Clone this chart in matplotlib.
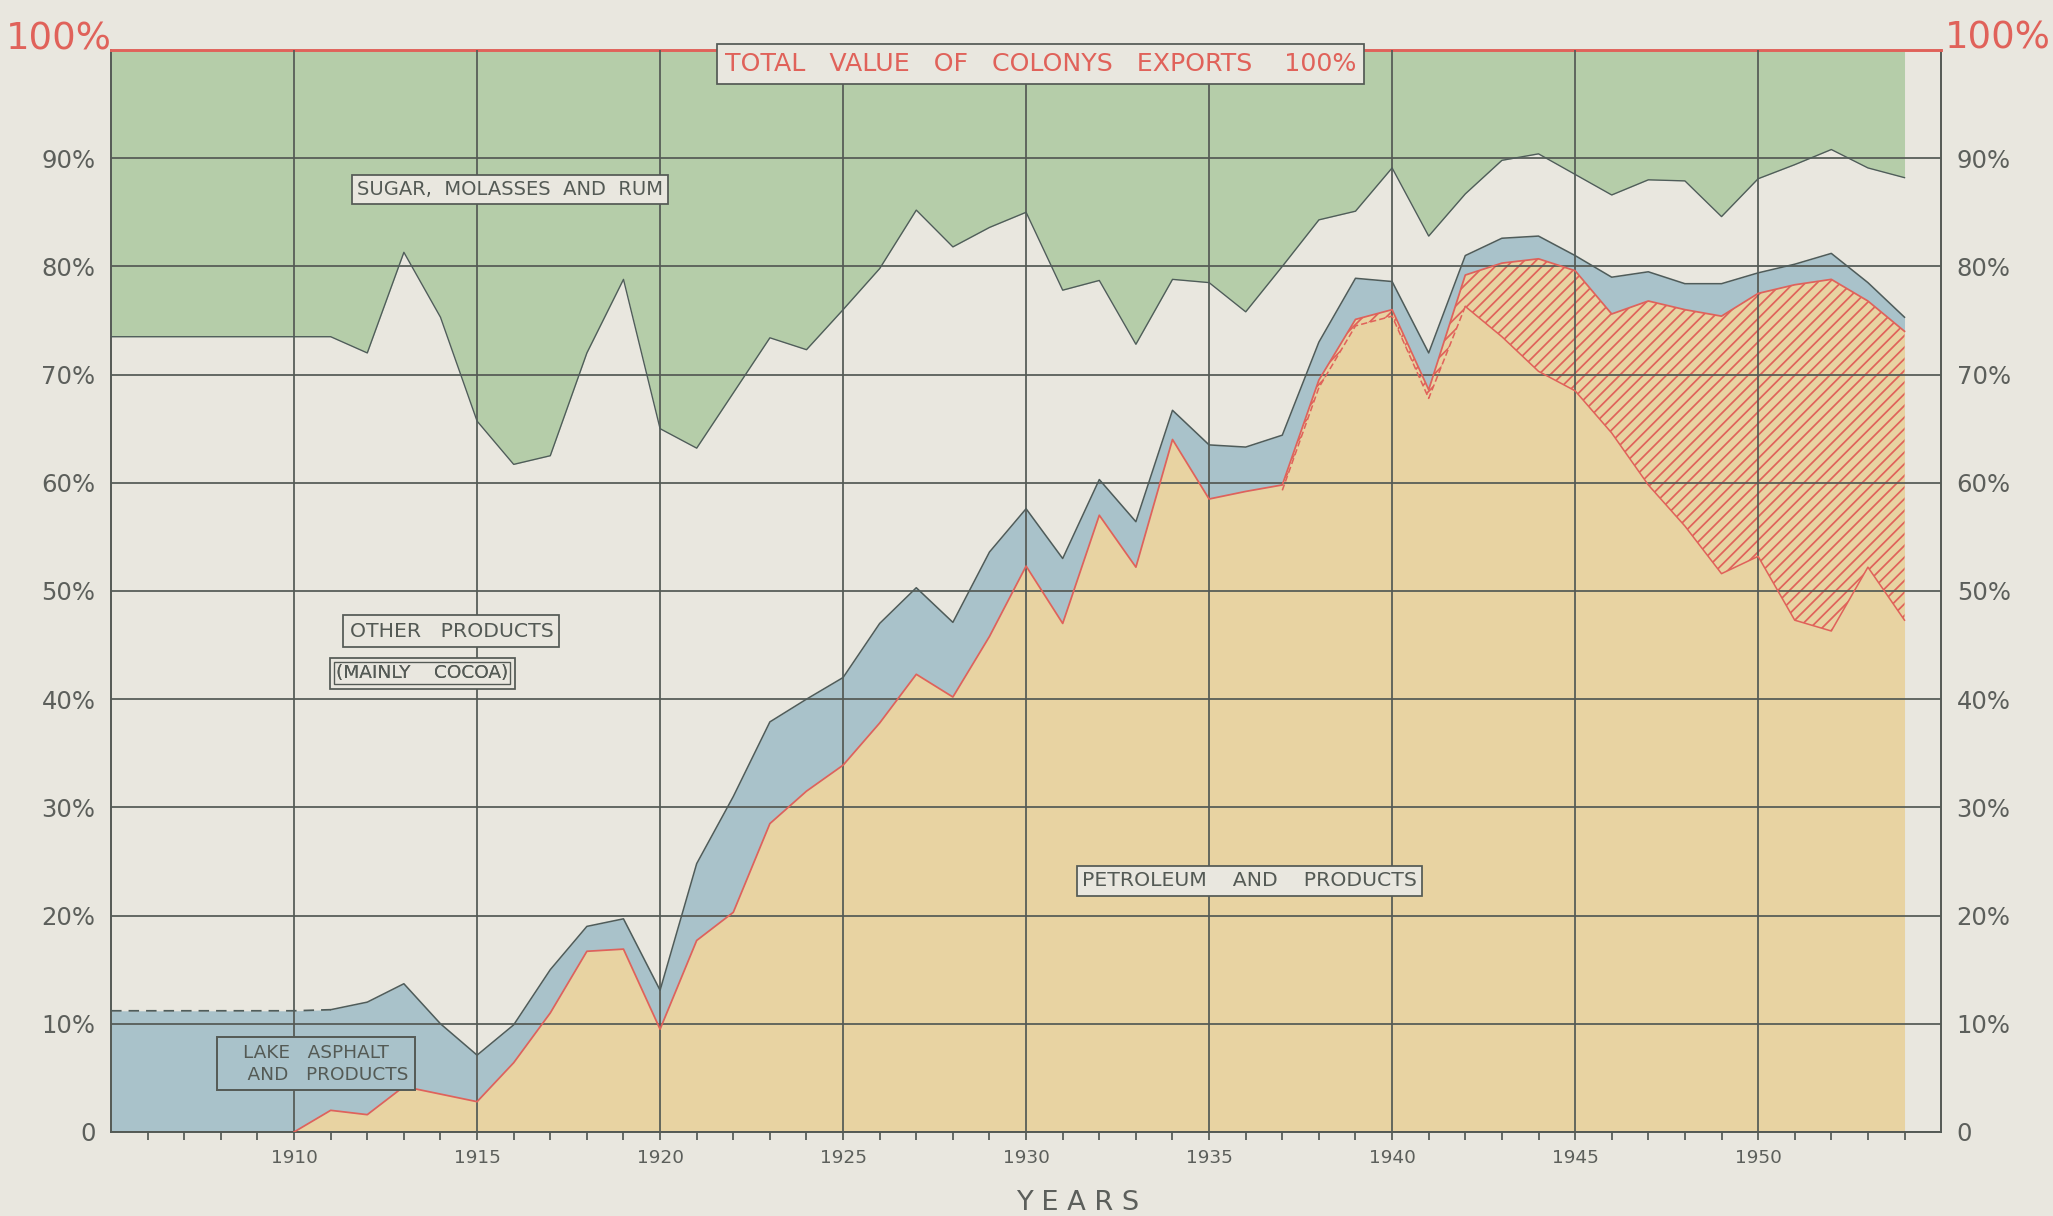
import numpy as np
import matplotlib
matplotlib.use('Agg')
import matplotlib.pyplot as plt

# share of the colony's exports by value, percent
years = np.arange(1905, 1955)

# lower edge of the green band (sugar, molasses and rum above it)
sugar_edge = [73.5, 73.5, 73.5, 73.5, 73.5, 73.5, 73.5,
              72.0, 81.3, 75.3, 65.7, 61.7, 62.5, 72.0, 78.8, 65.0,
              63.2, 68.3, 73.4, 72.3, 76.0, 79.8, 85.2, 81.8, 83.6, 85.0,
              77.8, 78.7, 72.8, 78.8, 78.5, 75.8, 80.0, 84.3, 85.1, 89.1,
              82.8, 86.7, 89.8, 90.4, 88.5, 86.6, 88.0, 87.9, 84.6, 88.1,
              89.4, 90.8, 89.1, 88.2]

# top of the blue band (lake asphalt + petroleum)
asphalt_top = [11.2, 11.2, 11.2, 11.2, 11.2, 11.2, 11.3,
               12.0, 13.7, 10.0, 7.1, 9.9, 15.0, 19.0, 19.7, 13.1,
               24.8, 31.0, 37.9, 40.0, 42.0, 47.0, 50.3, 47.1, 53.6, 57.6,
               53.0, 60.3, 56.4, 66.7, 63.5, 63.3, 64.4, 73.0, 78.9, 78.6,
               72.0, 81.0, 82.6, 82.8, 81.0, 79.0, 79.5, 78.4, 78.4, 79.4,
               80.2, 81.2, 78.5, 75.3]

# petroleum and products (top of the tan area)
petroleum = [0, 0, 0, 0, 0, 0,
             2.0, 1.6, 4.2, 3.5, 2.8, 6.4, 11.0, 16.7, 16.9, 9.5,
             17.7, 20.3, 28.5, 31.5, 33.9, 37.8, 42.3, 40.2, 45.8, 52.3,
             47.0, 57.0, 52.2, 64.0, 58.5, 59.2, 59.8, 69.5, 75.1, 76.0,
             68.6, 79.2, 80.3, 80.7, 79.6, 75.6, 76.8, 76.0, 75.4, 77.5,
             78.3, 78.8, 76.8, 74.0]

# lower edge of the hatched part of petroleum
hatch_years = np.arange(1937, 1955)
petro_lower = [59.3, 68.8, 74.5, 75.4, 67.8, 76.3, 73.5, 70.3, 68.5, 64.6,
               59.8, 56.0, 51.6, 53.2, 47.3, 46.3, 52.2, 47.3]

year_ticks = list(range(1910, 1951, 5))
pct_ticks = list(range(0, 100, 10))
pct_labels = ['0'] + ['%d%%' % p for p in pct_ticks[1:]]

paper = '#e9e7df'
green = '#b5cda9'
blue = '#a9c2ca'
tan = '#e8d3a2'
red = '#e0625a'
ink = '#545a55'
dark = '#4f5c5a'

plt.rcParams['font.family'] = 'DejaVu Sans'
plt.rcParams['hatch.linewidth'] = 0.9

fig = plt.figure(figsize=(2053 / 140, 1216 / 140), dpi=140, facecolor=paper)
ax = fig.add_axes([0.0541, 0.0691, 0.8914, 0.8898])
ax.set_facecolor(paper)
ax.set_xlim(1905, 1955)
ax.set_ylim(0, 100)

sugar_edge = np.array(sugar_edge)
asphalt_top = np.array(asphalt_top)
petroleum = np.array(petroleum)
i37 = list(years).index(1937)

ax.fill_between(years, sugar_edge, 100, color=green, lw=0, zorder=1)
ax.fill_between(years, 0, petroleum, color=tan, lw=0, zorder=1)
ax.fill_between(years, petroleum, asphalt_top, color=blue, lw=0, zorder=1)
ax.fill_between(hatch_years, petro_lower, petroleum[i37:], facecolor='none',
                edgecolor=red, hatch='////', lw=0, zorder=1.5)

# boundary lines
ax.plot(years, sugar_edge, color=dark, lw=0.7, zorder=3)
ax.plot(years[6:], asphalt_top[6:], color=dark, lw=0.8, zorder=3)
ax.plot(years[:7], asphalt_top[:7], color=dark, lw=0.9, ls=(0, (6, 4)), zorder=3)
ax.plot(years[5:], petroleum[5:], color=red, lw=0.9, zorder=3)
ax.plot(hatch_years[:6], petro_lower[:6], color=red, lw=0.8, ls=(0, (4, 2)), zorder=3)
ax.plot(hatch_years[5:], petro_lower[5:], color=red, lw=0.8, zorder=3)

# grid and axes
ax.set_xticks(year_ticks)
ax.set_xticklabels([str(y) for y in year_ticks])
ax.set_xticks(range(1906, 1955), minor=True)
ax.set_yticks(pct_ticks)
ax.set_yticklabels(pct_labels)
ax.grid(True, color=ink, lw=0.9)
ax.set_axisbelow(False)
ax.tick_params(axis='x', which='both', direction='out', length=4, width=0.9,
               color=ink, labelsize=9.5, labelcolor='#5c5f5b', pad=5)
ax.tick_params(axis='y', length=0, labelsize=12.5, labelcolor='#5c5f5b',
               labelleft=True, labelright=True, pad=8)
for side in ['left', 'right', 'bottom']:
    ax.spines[side].set_color(ink)
    ax.spines[side].set_linewidth(1.0)
ax.spines['top'].set_color(red)
ax.spines['top'].set_linewidth(1.5)

fig.text(0.0287, 0.968, '100%', color=red, fontsize=19, ha='center', va='center')
fig.text(0.973, 0.969, '100%', color=red, fontsize=19, ha='center', va='center')
fig.text(0.5247, 0.011, 'Y E A R S', color='#5c5f5b', fontsize=14, ha='center', va='center')

# labels in boxes
box = dict(boxstyle='square,pad=0.3', facecolor=paper, edgecolor=ink, lw=0.9)
ax.text(1930.4, 98.7, 'TOTAL   VALUE   OF   COLONYS   EXPORTS    100%', color=red,
        fontsize=13, ha='center', va='center', zorder=5, bbox=box)
ax.text(1915.9, 87.1, 'SUGAR,  MOLASSES  AND  RUM', color=ink, fontsize=10,
        ha='center', va='center', zorder=5,
        bbox=dict(boxstyle='square,pad=0.25', facecolor=paper, edgecolor=ink, lw=0.9))
ax.text(1914.3, 46.3, 'OTHER   PRODUCTS', color=ink, fontsize=10.5,
        ha='center', va='center', zorder=5,
        bbox=dict(boxstyle='square,pad=0.3', facecolor=paper, edgecolor=ink, lw=0.9))
ax.text(1913.5, 42.4, '(MAINLY    COCOA)', color=ink, fontsize=9.5,
        ha='center', va='center', zorder=5,
        bbox=dict(boxstyle='square,pad=0.35', facecolor=paper, edgecolor=ink, lw=0.9))
ax.text(1913.5, 42.4, '(MAINLY    COCOA)', color=ink, fontsize=9.5,
        ha='center', va='center', zorder=6,
        bbox=dict(boxstyle='square,pad=0.1', facecolor='none', edgecolor=ink, lw=0.7))
ax.text(1910.6, 6.3, 'LAKE   ASPHALT\n    AND   PRODUCTS', color=ink, fontsize=9.5,
        ha='center', va='center', zorder=5, linespacing=1.3,
        bbox=dict(boxstyle='square,pad=0.35', facecolor=blue, edgecolor=ink, lw=1.0))
ax.text(1936.1, 23.2, 'PETROLEUM    AND    PRODUCTS', color=ink, fontsize=10.5,
        ha='center', va='center', zorder=5,
        bbox=dict(boxstyle='square,pad=0.25', facecolor=paper, edgecolor=ink, lw=0.9))

plt.savefig('out.png', dpi=140, facecolor=paper)
